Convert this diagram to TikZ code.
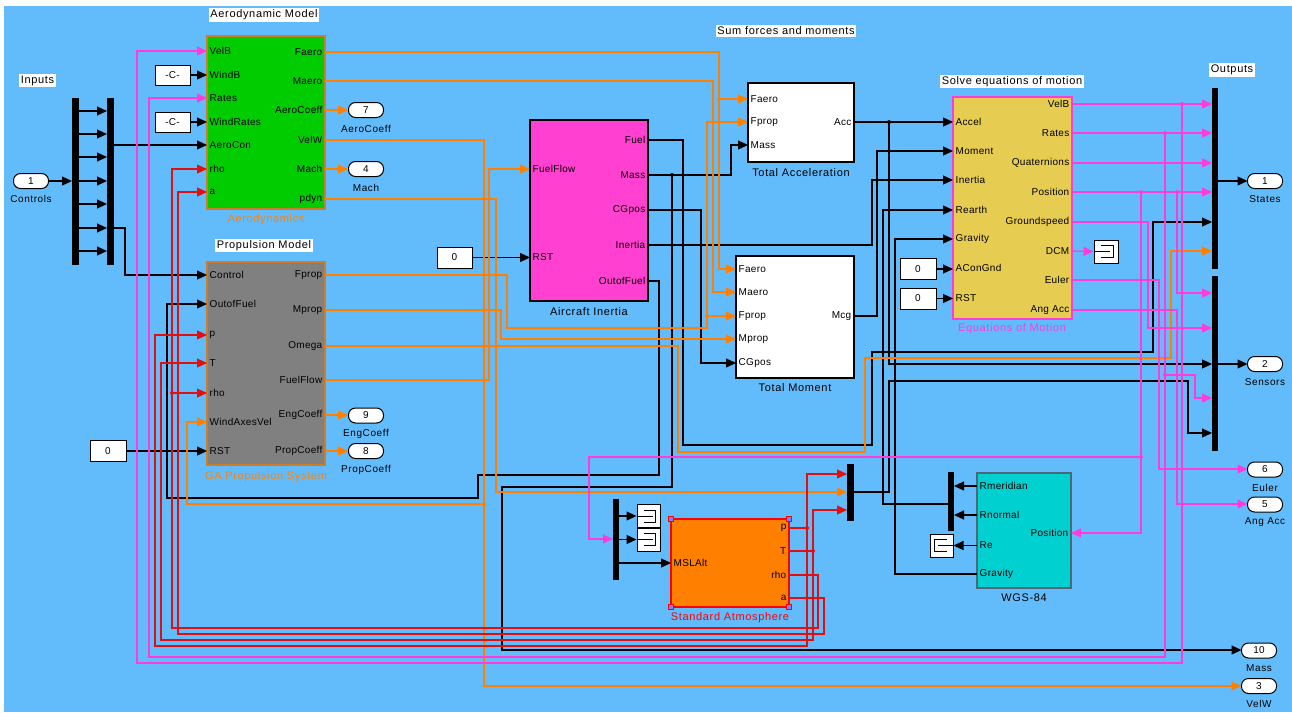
\documentclass[tikz,border=0pt]{standalone}
\usepackage{fontspec}
\setmainfont{Liberation Sans}
\newfontfamily\tfont[LetterSpace=6]{Liberation Sans}
\newfontfamily\pfont[LetterSpace=3]{Liberation Sans}
\usetikzlibrary{arrows.meta,calc}
\definecolor{bgblue}{RGB}{98,188,252}
\definecolor{sorange}{RGB}{255,128,0}
\definecolor{spink}{RGB}{255,60,215}
\definecolor{sred}{RGB}{225,15,15}
\definecolor{bgreen}{RGB}{0,204,0}
\definecolor{bgray}{RGB}{128,128,128}
\definecolor{bmag}{RGB}{255,64,208}
\definecolor{byellow}{RGB}{230,205,82}
\definecolor{borange}{RGB}{255,128,0}
\definecolor{bcyan}{RGB}{0,208,208}
\definecolor{edgeor}{RGB}{205,125,40}
\tikzset{
  wire/.style={line width=1.2pt},
  bw/.style={wire, draw=black},
  ow/.style={wire, draw=sorange},
  pw/.style={wire, draw=spink},
  rw/.style={wire, draw=sred},
  arw/.style={-{Triangle[length=10pt,width=9pt]}},
  blockbox/.style={draw, line width=1.2pt, anchor=north west, inner sep=0pt, outer sep=0pt},
  plab/.style={font=\pfont\fontsize{10}{12}\selectfont, inner sep=1.5pt},
  pin/.style={plab, anchor=west},
  pout/.style={plab, anchor=east},
  ttl/.style={fill=white, font=\tfont\fontsize{11}{13}\selectfont, inner sep=1.6pt},
  bname/.style={font=\tfont\fontsize{11}{13}\selectfont, inner sep=0pt},
  sbar/.style={fill=black, draw=none, anchor=north west, inner sep=0pt, outer sep=0pt, minimum width=7pt},
  oport/.style={draw=black, fill=white, rounded corners=7pt, minimum width=35pt, minimum height=15pt, inner sep=0pt, line width=1pt, font=\pfont\fontsize{10}{12}\selectfont},
  olab/.style={font=\tfont\fontsize{10}{12}\selectfont, inner sep=0pt},
  cbox/.style={draw=black, fill=white, line width=1pt, inner sep=0pt, font=\pfont\fontsize{10}{12}\selectfont},
  tbox/.style={draw=black, fill=white, line width=1pt, minimum width=23pt, minimum height=23pt, inner sep=0pt},
  jdot/.style={circle, fill, inner sep=0pt, minimum size=4pt},
  hdl/.style={draw=red, fill=blue!50!white, line width=1pt, minimum size=4.5pt, inner sep=0pt},
}
\newcommand\mytermR[1]{%
  \draw[line width=1pt] ($(#1.center)+(-5,-6)$) -- ($(#1.center)+(7,-6)$) -- ($(#1.center)+(7,6)$) -- ($(#1.center)+(-5,6)$);
  \draw[line width=1pt] ($(#1.center)+(-11,0)$) -- ($(#1.center)+(4,0)$);}
\newcommand\mytermL[1]{%
  \draw[line width=1pt] ($(#1.center)+(5,-6)$) -- ($(#1.center)+(-7,-6)$) -- ($(#1.center)+(-7,6)$) -- ($(#1.center)+(5,6)$);
  \draw[line width=1pt] ($(#1.center)+(11,0)$) -- ($(#1.center)+(-4,0)$);}
\begin{document}
\begin{tikzpicture}[x=1pt,y=-1pt]
\useasboundingbox (0,0) rectangle (1292,712);
\fill[white] (0,0) rectangle (1292,712);
\fill[bgblue] (4,6) rectangle (1292,712);

% ---------- blocks ----------
\node[blockbox, fill=bgreen, draw=edgeor, minimum width=118pt, minimum height=173pt] (aero) at (207,36) {};
\node[blockbox, fill=bgray, draw=edgeor, minimum width=118pt, minimum height=203pt] (prop) at (207,262) {};
\node[blockbox, fill=bmag, draw=black, minimum width=118pt, minimum height=181pt] (inert) at (530,120) {};
\node[blockbox, fill=white, draw=black, minimum width=106pt, minimum height=79pt] (tacc) at (748,83) {};
\node[blockbox, fill=white, draw=black, minimum width=118pt, minimum height=122pt] (tmom) at (736,256) {};
\node[blockbox, fill=byellow, draw=spink, minimum width=119pt, minimum height=222pt] (eom) at (953,97) {};
\node[blockbox, fill=borange, draw=red, minimum width=118pt, minimum height=88pt] (atm) at (671,519) {};
\node[blockbox, fill=bcyan, draw=black!60!cyan, minimum width=94pt, minimum height=115pt] (wgs) at (977,473) {};

% bars
\node[sbar, minimum height=167pt] (in1) at (72,98) {};
\node[sbar, minimum height=167pt] (in2) at (107,98) {};
\node[sbar, minimum width=6pt, minimum height=81pt] (admx) at (613,499) {};
\node[sbar, minimum height=57pt] (amux) at (847,464) {};
\node[sbar, minimum width=6pt, minimum height=59pt] (wmux) at (948,472) {};
\node[sbar, minimum width=6pt, minimum height=181pt] (out1) at (1212,88) {};
\node[sbar, minimum width=6pt, minimum height=175pt] (out2) at (1212,276) {};

% constants
\node[cbox, minimum width=35pt, minimum height=20pt] (cc1) at (172.5,75) {-C-};
\node[cbox, minimum width=35pt, minimum height=20pt] (cc2) at (172.5,122) {-C-};
\node[cbox, minimum width=36pt, minimum height=21pt] (c0p) at (108,451) {0};
\node[cbox, minimum width=35pt, minimum height=21pt] (c0i) at (454.5,257.5) {0};
\node[cbox, minimum width=36pt, minimum height=21pt] (c0a) at (918,269) {0};
\node[cbox, minimum width=36pt, minimum height=21pt] (c0b) at (918,298.5) {0};

% terminators
\node[tbox] (tm1) at (648.5,516) {};
\node[tbox] (tm2) at (648.5,539.5) {};
\node[tbox, minimum width=24pt] (tdcm) at (1106,251.5) {};
\node[tbox] (tre) at (941.5,545.5) {};
\mytermR{tm1}\mytermR{tm2}\mytermR{tdcm}\mytermL{tre}

% ---------- black wires ----------
\draw[bw,arw] (48.5,181) -- (in1.west |- 0,181);
\foreach \y in {111,134,157,181,204,228,251} \draw[bw,arw] (in1.east |- 0,\y) -- (in2.west |- 0,\y);
\draw[bw,arw] (in2.east |- 0,145) -- (aero.west |- 0,145);
\draw[bw,arw] (in2.east |- 0,228) -- (125,228) -- (125,275) -- (prop.west |- 0,275);
\draw[bw,arw] (cc1.east) -- (aero.west |- cc1.east);
\draw[bw,arw] (cc2.east) -- (aero.west |- cc2.east);
\draw[bw,arw] (c0p.east) -- (prop.west |- c0p.east);
\draw[bw,arw] (c0i.east) -- (inert.west |- c0i.east);
\draw[bw,arw] (c0a.east) -- (eom.west |- c0a.east);
\draw[bw,arw] (c0b.east) -- (eom.west |- c0b.east);
% Fuel
\draw[bw,arw] (inert.east |- 0,140) -- (683,140) -- (683,445) -- (872,445) -- (872,352) -- (1153,352) -- (1153,222) -- (out1.west |- 0,222);
% Mass
\draw[bw,arw] (inert.east |- 0,175) -- (731,175) -- (731,145) -- (tacc.west |- 0,145);
\draw[bw,arw] (672,175) -- (672,487) -- (502,487) -- (502,650) -- (1241.5,650);
% CGpos
\draw[bw,arw] (inert.east |- 0,210) -- (701,210) -- (701,363) -- (tmom.west |- 0,363);
% Inertia
\draw[bw,arw] (inert.east |- 0,245) -- (872,245) -- (872,180) -- (eom.west |- 0,180);
% OutofFuel
\draw[bw,arw] (inert.east |- 0,281) -- (659,281) -- (659,475) -- (478,475) -- (478,498) -- (167,498) -- (167,304) -- (prop.west |- 0,304);
% Acc
\draw[bw,arw] (tacc.east |- 0,122) -- (eom.west |- 0,122);
\draw[bw,arw] (889,122) -- (889,364) -- (out2.west |- 0,364);
% Mcg
\draw[bw,arw] (tmom.east |- 0,316) -- (877,316) -- (877,151) -- (eom.west |- 0,151);
% atm mux out
\draw[bw,arw] (amux.east |- 0,492) -- (889,492) -- (889,381) -- (1188,381) -- (1188,433) -- (out2.west |- 0,433);
% wgs mux out -> Rearth
\draw[bw,arw] (wmux.west |- 0,504) -- (883,504) -- (883,210) -- (eom.west |- 0,210);
% Gravity
\draw[bw,arw] (wgs.west |- 0,574) -- (895,574) -- (895,239) -- (eom.west |- 0,239);
\draw[bw,arw] (wgs.west |- 0,486) -- (wmux.east |- 0,486);
\draw[bw,arw] (wgs.west |- 0,515) -- (wmux.east |- 0,515);
\draw[bw,arw] (wgs.west |- 0,545.5) -- (tre.east);
% atm demux
\draw[bw,arw] (admx.east |- tm1.west) -- (tm1.west);
\draw[bw,arw] (admx.east |- tm2.west) -- (tm2.west);
\draw[bw,arw] (admx.east |- 0,563) -- (atm.west |- 0,563);
% outputs
\draw[bw,arw] (out1.east |- 0,181) -- (1247.5,181);
\draw[bw,arw] (out2.east |- 0,364) -- (1247.5,364);

% ---------- orange wires ----------
\draw[ow,arw] (aero.east |- 0,52) -- (719,52) -- (719,269) -- (tmom.west |- 0,269);
\draw[ow,arw] (719,99) -- (tacc.west |- 0,99);
\draw[ow,arw] (aero.east |- 0,81) -- (713,81) -- (713,292) -- (tmom.west |- 0,292);
\draw[ow,arw] (aero.east |- 0,110) -- (348,110);
\draw[ow,arw] (aero.east |- 0,140) -- (484,140) -- (484,686) -- (1241.5,686);
\draw[ow,arw] (484,504) -- (187,504) -- (187,422) -- (prop.west |- 0,422);
\draw[ow,arw] (aero.east |- 0,169) -- (348,169);
\draw[ow,arw] (aero.east |- 0,199) -- (496,199) -- (496,492) -- (amux.west |- 0,492);
\draw[ow,arw] (prop.east |- 0,275) -- (507,275) -- (507,328) -- (707,328) -- (707,122) -- (tacc.west |- 0,122);
\draw[ow,arw] (707,316) -- (tmom.west |- 0,316);
\draw[ow,arw] (prop.east |- 0,310) -- (501,310) -- (501,339) -- (tmom.west |- 0,339);
\draw[ow,arw] (prop.east |- 0,346) -- (678,346) -- (678,452) -- (865,452) -- (865,358) -- (1171,358) -- (1171,251) -- (out1.west |- 0,251);
\draw[ow,arw] (prop.east |- 0,380) -- (489,380) -- (489,169) -- (inert.west |- 0,169);
\draw[ow,arw] (prop.east |- 0,415) -- (348,415);
\draw[ow,arw] (prop.east |- 0,451) -- (348,451);

% ---------- pink wires ----------
\draw[pw,arw] (eom.east |- 0,104) -- (out1.west |- 0,104);
\draw[pw,arw] (1182,104) -- (1182,663) -- (137,663) -- (137,51) -- (aero.west |- 0,51);
\draw[pw,arw] (eom.east |- 0,133) -- (out1.west |- 0,133);
\draw[pw,arw] (1165,133) -- (1165,657) -- (149,657) -- (149,98) -- (aero.west |- 0,98);
\draw[pw,arw] (1165,375) -- (1195,375) -- (1195,398) -- (out2.west |- 0,398);
\draw[pw,arw] (eom.east |- 0,163) -- (out1.west |- 0,163);
\draw[pw,arw] (eom.east |- 0,192) -- (out1.west |- 0,192);
\draw[pw,arw] (1177,192) -- (1177,293) -- (out2.west |- 0,293);
\draw[pw,arw] (1141,192) -- (1141,533) -- (wgs.east |- 0,533);
\draw[pw,arw] (1141,457) -- (589,457) -- (589,539) -- (admx.west |- 0,539);
\draw[pw,arw] (eom.east |- 0,222) -- (1148,222) -- (1148,328) -- (out2.west |- 0,328);
\draw[pw,arw] (eom.east |- 0,251) -- (tdcm.west);
\draw[pw,arw] (eom.east |- 0,280) -- (1159,280) -- (1159,469) -- (1247.5,469);
\draw[pw,arw] (eom.east |- 0,310) -- (1177,310) -- (1177,504) -- (1247.5,504);

% ---------- red wires ----------
\draw[rw,arw] (atm.east |- 0,528) -- (807,528) -- (807,646) -- (155,646) -- (155,335) -- (prop.west |- 0,335);
\draw[rw,arw] (807,528) -- (807,474) -- (amux.west |- 0,474);
\draw[rw,arw] (atm.east |- 0,551) -- (813,551) -- (813,640) -- (161,640) -- (161,363) -- (prop.west |- 0,363);
\draw[rw,arw] (813,551) -- (813,510) -- (amux.west |- 0,510);
\draw[rw,arw] (atm.east |- 0,575) -- (818,575) -- (818,628) -- (172,628) -- (172,169) -- (aero.west |- 0,169);
\draw[rw,arw] (172,393) -- (prop.west |- 0,393);
\draw[rw,arw] (atm.east |- 0,598) -- (824,598) -- (824,634) -- (178,634) -- (178,192) -- (aero.west |- 0,192);

% junction dots
\node[jdot, black] (d1) at (672,175) {};
\node[jdot, black] (d2) at (889,122) {};
\node[jdot, sorange] (d3) at (719,99) {};
\node[jdot, sorange] (d4) at (484,504) {};
\node[jdot, sorange] (d5) at (707,316) {};
\node[jdot, spink] (d6) at (1182,104) {};
\node[jdot, spink] (d7) at (1165,133) {};
\node[jdot, spink] (d8) at (1165,375) {};
\node[jdot, spink] (d9) at (1177,192) {};
\node[jdot, spink] (d10) at (1141,192) {};
\node[jdot, spink] (d11) at (1141,457) {};
\node[jdot, sred] (d12) at (807,528) {};
\node[jdot, sred] (d13) at (813,551) {};
\node[jdot, sred] (d14) at (172,393) {};

% selection handles on atmosphere
\node[hdl] (h1) at (atm.north west) {};
\node[hdl] (h2) at (atm.north east) {};
\node[hdl] (h3) at (atm.south west) {};
\node[hdl] (h4) at (atm.south east) {};

% ---------- outports / inport ----------
\node[oport] (ctrl) at (31,181) {1};
\node[olab] (ctrlL) at (31,199) {Controls};
\node[oport] (o7) at (366,110) {7};
\node[olab] (o7L) at (366,128.5) {AeroCoeff};
\node[oport] (o4) at (366,169) {4};
\node[olab] (o4L) at (366,187.5) {Mach};
\node[oport] (o9) at (366,415.5) {9};
\node[olab] (o9L) at (366,434) {EngCoeff};
\node[oport] (o8) at (366,451) {8};
\node[olab] (o8L) at (366,469.5) {PropCoeff};
\node[oport] (s1) at (1265,181) {1};
\node[olab] (s1L) at (1265,199.5) {States};
\node[oport] (s2) at (1265,364) {2};
\node[olab] (s2L) at (1265,382.5) {Sensors};
\node[oport] (s6) at (1265,469.5) {6};
\node[olab] (s6L) at (1265,487.5) {Euler};
\node[oport] (s5) at (1265,504.5) {5};
\node[olab] (s5L) at (1265,522.5) {Ang Acc};
\node[oport] (s10) at (1259,650.5) {10};
\node[olab] (s10L) at (1259,668.5) {Mass};
\node[oport] (s3) at (1259,686) {3};
\node[olab] (s3L) at (1259,704) {VelW};

% ---------- titles ----------
\node[ttl] (tIn) at (37.5,80.5) {Inputs};
\node[ttl] (tAero) at (264,15) {Aerodynamic Model};
\node[ttl] (tProp) at (264,245.5) {Propulsion Model};
\node[ttl] (tSum) at (786,31) {Sum forces and moments};
\node[ttl] (tEom) at (1012,81.5) {Solve equations of motion};
\node[ttl] (tOut) at (1232,70) {Outputs};

% ---------- block names ----------
\node[bname, text=sorange] (nAero) at (266,219.5) {Aerodynamics};
\node[bname, text=sorange] (nProp) at (266,476.5) {GA Propulsion System};
\node[bname] (nInert) at (589,311.5) {Aircraft Inertia};
\node[bname] (nTacc) at (801,172.5) {Total Acceleration};
\node[bname] (nTmom) at (795,387.5) {Total Moment};
\node[bname, text=spink] (nEom) at (1012,328.5) {Equations of Motion};
\node[bname, text=red] (nAtm) at (730,618) {Standard Atmosphere};
\node[bname] (nWgs) at (1024,598) {WGS-84};

% ---------- port labels ----------
\foreach \y/\t [count=\i] in {51/VelB,75/WindB,98/Rates,122/WindRates,145/AeroCon,169/rho,192/a}
  \node[pin] (ai\i) at (208,\y) {\t};
\foreach \y/\t [count=\i] in {52/Faero,81/Maero,110/AeroCoeff,140/VelW,169/Mach,199/pdyn}
  \node[pout] (ao\i) at (324,\y) {\t};
\foreach \y/\t [count=\i] in {275/Control,304/OutofFuel,335/p,363/T,393/rho,422/WindAxesVel,451/RST}
  \node[pin] (pi\i) at (208,\y) {\t};
\foreach \y/\t [count=\i] in {275/Fprop,310/Mprop,346/Omega,380/FuelFlow,415/EngCoeff,451/PropCoeff}
  \node[pout] (po\i) at (324,\y) {\t};
\foreach \y/\t [count=\i] in {169/FuelFlow,257/RST}
  \node[pin] (ii\i) at (531,\y) {\t};
\foreach \y/\t [count=\i] in {140/Fuel,175/Mass,210/CGpos,245/Inertia,281/OutofFuel}
  \node[pout] (io\i) at (647,\y) {\t};
\foreach \y/\t [count=\i] in {99/Faero,122/Fprop,145/Mass}
  \node[pin] (ti\i) at (749,\y) {\t};
\node[pout] (to1) at (853,122) {Acc};
\foreach \y/\t [count=\i] in {269/Faero,292/Maero,316/Fprop,339/Mprop,363/CGpos}
  \node[pin] (mi\i) at (737,\y) {\t};
\node[pout] (mo1) at (853,316) {Mcg};
\foreach \y/\t [count=\i] in {122/Accel,151/Moment,180/Inertia,210/Rearth,239/Gravity,268/AConGnd,298/RST}
  \node[pin] (ei\i) at (954,\y) {\t};
\foreach \y/\t [count=\i] in {104/VelB,133/Rates,163/Quaternions,192/Position,222/Groundspeed,251/DCM,280/Euler,310/Ang Acc}
  \node[pout] (eo\i) at (1071,\y) {\t};
\node[pin] (si1) at (672,563) {MSLAlt};
\foreach \y/\t [count=\i] in {528/p,551/T,575/rho,598/a}
  \node[pout] (so\i) at (788,\y) {\t};
\foreach \y/\t [count=\i] in {486/Rmeridian,515/Rnormal,545/Re,574/Gravity}
  \node[pin] (wi\i) at (978,\y) {\t};
\node[pout] (wo1) at (1070,533) {Position};
\end{tikzpicture}
\end{document}
